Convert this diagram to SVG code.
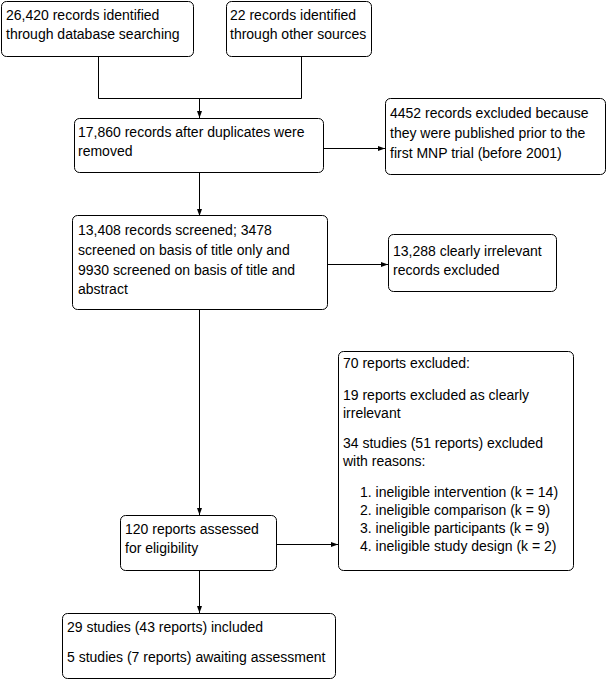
<svg xmlns="http://www.w3.org/2000/svg" width="610" height="680" viewBox="0 0 610 680">
<defs>
<style>
.box{fill:#fff;stroke:#000;stroke-width:1}
.t{font-family:"Liberation Sans",Arial,sans-serif;font-size:14px;fill:#000}
.ln{fill:none;stroke:#000;stroke-width:1}
</style>
<marker id="ah" markerWidth="7" markerHeight="6" refX="7" refY="3" orient="auto" markerUnits="userSpaceOnUse">
<path d="M0,0.5 L7,3 L0,5.5 Z" fill="#000"/>
</marker>
</defs>
<rect width="610" height="680" fill="#fff"/>
<g id="connectors">
<path class="ln" d="M98.5,57 V98.5 H301.5 V57"/>
<path class="ln" d="M199.5,98.5 V118" marker-end="url(#ah)"/>
<path class="ln" d="M324,148.5 H385" marker-end="url(#ah)"/>
<path class="ln" d="M199.5,173 V216" marker-end="url(#ah)"/>
<path class="ln" d="M328,264.5 H388" marker-end="url(#ah)"/>
<path class="ln" d="M199.5,310 V515" marker-end="url(#ah)"/>
<path class="ln" d="M277,544.5 H338" marker-end="url(#ah)"/>
<path class="ln" d="M199.5,571 V613" marker-end="url(#ah)"/>
</g>
<g id="n1">
<rect class="box" x="1.5" y="1.5" width="192" height="55" rx="5"/>
<text class="t" x="6" y="20">26,420 records identified</text>
<text class="t" x="6" y="39">through database searching</text>
</g>
<g id="n2">
<rect class="box" x="226.5" y="1.5" width="145" height="55" rx="5"/>
<text class="t" x="230" y="20">22 records identified</text>
<text class="t" x="230" y="39">through other sources</text>
</g>
<g id="n3">
<rect class="box" x="74.5" y="118.5" width="249" height="54" rx="5"/>
<text class="t" x="78" y="137">17,860 records after duplicates were</text>
<text class="t" x="78" y="156">removed</text>
</g>
<g id="n4">
<rect class="box" x="385.5" y="98.5" width="220" height="76" rx="5"/>
<text class="t" x="390" y="118">4452 records excluded because</text>
<text class="t" x="390" y="138">they were published prior to the</text>
<text class="t" x="390" y="158">first MNP trial (before 2001)</text>
</g>
<g id="n5">
<rect class="box" x="72.5" y="215.5" width="255" height="94" rx="5"/>
<text class="t" x="78" y="235">13,408 records screened; 3478</text>
<text class="t" x="78" y="255">screened on basis of title only and</text>
<text class="t" x="78" y="275">9930 screened on basis of title and</text>
<text class="t" x="78" y="294">abstract</text>
</g>
<g id="n6">
<rect class="box" x="388.5" y="234.5" width="168" height="57" rx="5"/>
<text class="t" x="393" y="256">13,288 clearly irrelevant</text>
<text class="t" x="393" y="275">records excluded</text>
</g>
<g id="n7">
<rect class="box" x="120.5" y="515.5" width="156" height="55" rx="5"/>
<text class="t" x="125" y="534">120 reports assessed</text>
<text class="t" x="125" y="553">for eligibility</text>
</g>
<g id="n8">
<rect class="box" x="338.5" y="351.5" width="235" height="219" rx="5"/>
<text class="t" x="343" y="368">70 reports excluded:</text>
<text class="t" x="343" y="400">19 reports excluded as clearly</text>
<text class="t" x="343" y="418">irrelevant</text>
<text class="t" x="343" y="448">34 studies (51 reports) excluded</text>
<text class="t" x="343" y="466">with reasons:</text>
<text class="t" x="360" y="497">1. ineligible intervention (k = 14)</text>
<text class="t" x="360" y="515">2. ineligible comparison (k = 9)</text>
<text class="t" x="360" y="533">3. ineligible participants (k = 9)</text>
<text class="t" x="360" y="551">4. ineligible study design (k = 2)</text>
</g>
<g id="n9">
<rect class="box" x="62.5" y="613.5" width="273" height="65" rx="5"/>
<text class="t" x="67" y="632">29 studies (43 reports) included</text>
<text class="t" x="67" y="662">5 studies (7 reports) awaiting assessment</text>
</g>
</svg>
